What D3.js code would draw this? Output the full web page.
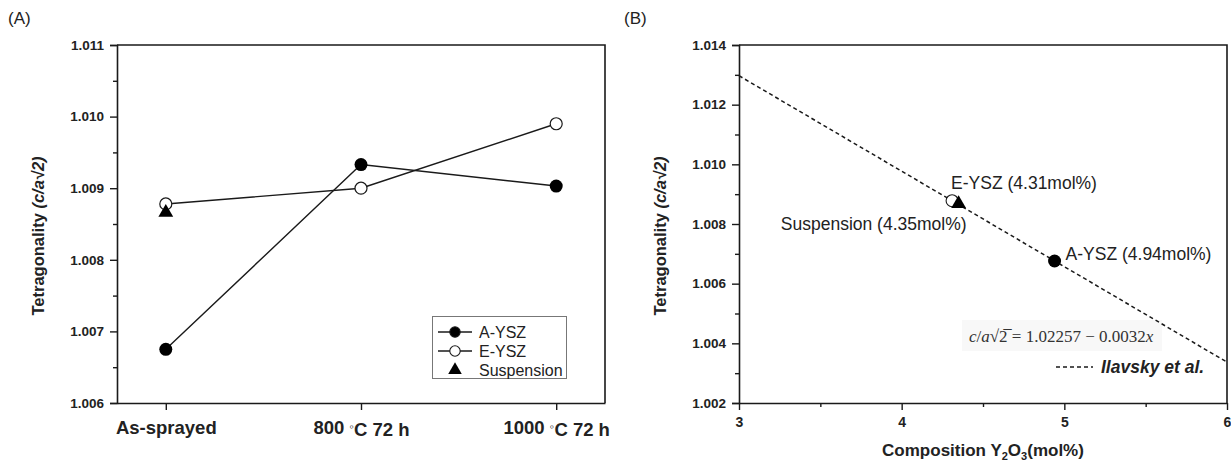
<!DOCTYPE html>
<html><head><meta charset="utf-8">
<script src="https://cdn.jsdelivr.net/npm/d3@7"></script>
<style>
body{margin:0;background:#fff;}
svg{display:block;font-family:Arial,"Liberation Sans",sans-serif;}
</style></head>
<body><svg id="c" width="1231" height="466"></svg>
<script>
// ---- Panel A data ----
const categoriesA = ["As-sprayed", "800 \u25E6C 72 h", "1000 \u25E6C 72 h"];
const aYSZ = [1.00675, 1.00933, 1.00903];
const eYSZ = [1.00878, 1.00900, 1.00990];
const suspensionA = [1.00866];           // As-sprayed only
const yTicksA = [1.006, 1.007, 1.008, 1.009, 1.010, 1.011];
const yMinorA = [1.0065, 1.0075, 1.0085, 1.0095, 1.0105];
const legendA = ["A-YSZ", "E-YSZ", "Suspension"];

// ---- Panel B data ----
const compB = [4.31, 4.35, 4.94];
const tetB = [1.00878, 1.00868, 1.00676];
const namesB = ["E-YSZ (4.31mol%)", "Suspension (4.35mol%)", "A-YSZ (4.94mol%)"];
const fitX = [3, 6];
const fitY = [1.01297, 1.00337];
const xTicksB = [3, 4, 5, 6];
const xMinorB = [3.5, 4.5, 5.5];
const yTicksB = [1.002, 1.004, 1.006, 1.008, 1.010, 1.012, 1.014];
const yMinorB = [1.003, 1.005, 1.007, 1.009, 1.011, 1.013];

const svg = d3.select("#c");
const ink = "#1a1a1a";
const fmt = d3.format(".3f");

function styleAxis(g, labelSize){
  g.select(".domain").attr("stroke", ink).attr("stroke-width", 1.6);
  g.selectAll(".tick line").attr("stroke", ink).attr("stroke-width", 1.4);
  g.selectAll(".tick text").attr("fill", "#222").attr("font-weight", "bold")
    .attr("font-size", labelSize).attr("font-family", "Arial, 'Liberation Sans', sans-serif");
}

// ================= Panel A =================
const xA = d3.scalePoint().domain(categoriesA).range([117, 605]).padding(0.25);
const yA = d3.scaleLinear().domain([1.006, 1.011]).range([403, 45]);

const gA = svg.append("g");
gA.append("path").attr("d", `M${xA.range()[0]},${yA.range()[1]}H${xA.range()[1]}V${yA.range()[0]}`)
  .attr("fill", "none").attr("stroke", ink).attr("stroke-width", 1.6);
gA.append("g").attr("transform", `translate(117,0)`)
  .call(d3.axisLeft(yA).tickValues(yMinorA).tickSize(4).tickFormat(""))
  .call(g => { styleAxis(g, 13); g.select(".domain").remove(); });
gA.append("g").attr("transform", `translate(117,0)`)
  .call(d3.axisLeft(yA).tickValues(yTicksA).tickSize(7).tickPadding(6).tickFormat(fmt))
  .call(g => styleAxis(g, 13.5));
const axB = gA.append("g").attr("transform", `translate(0,403)`)
  .call(d3.axisBottom(xA).tickSize(7).tickPadding(11).tickSizeOuter(0))
  .call(g => styleAxis(g, 18.5));
axB.selectAll(".tick text").each(function(d){
  const t = d3.select(this); const parts = d.split("\u25E6");
  if (parts.length > 1){
    t.text(null);
    t.append("tspan").text(parts[0]);
    t.append("tspan").attr("font-weight","normal").attr("font-size",13).attr("dy","-0.25em").text("\u25E6");
    t.append("tspan").attr("dy","0.25em").text(parts[1]);
  }
});

gA.append("text").attr("transform", "translate(44,236) rotate(-90)")
  .attr("text-anchor", "middle").attr("font-weight", "bold").attr("font-size", 16.5).attr("fill", "#222")
  .call(t => { t.append("tspan").text("Tetragonality "); t.append("tspan").attr("font-style","italic").text("(c/a\u221A2)"); });

const lineA = d3.line().x((d,i) => xA(categoriesA[i])).y(d => yA(d));
[aYSZ, eYSZ].forEach(s => gA.append("path").attr("d", lineA(s)).attr("fill","none")
  .attr("stroke", ink).attr("stroke-width", 1.4));
gA.selectAll(".ea").data(eYSZ).join("circle").attr("cx",(d,i)=>xA(categoriesA[i])).attr("cy",d=>yA(d))
  .attr("r",6).attr("fill","#fff").attr("stroke",ink).attr("stroke-width",1.2);
gA.selectAll(".aa").data(aYSZ).join("circle").attr("cx",(d,i)=>xA(categoriesA[i])).attr("cy",d=>yA(d))
  .attr("r",6.5).attr("fill","#000");
const tri = d3.symbol().type(d3.symbolTriangle);
gA.selectAll(".sa").data(suspensionA).join("path").attr("d", tri.size(95)())
  .attr("transform",(d,i)=>`translate(${xA(categoriesA[i])},${yA(d)})`).attr("fill","#000");

const lg = gA.append("g");
lg.append("rect").attr("x",432.5).attr("y",316.5).attr("width",134).attr("height",62)
  .attr("fill","#fff").attr("stroke","#777").attr("stroke-width",1);
legendA.forEach((name,i) => {
  const y = 332 + i*19;
  if (i < 2){
    lg.append("line").attr("x1",438).attr("x2",472).attr("y1",y).attr("y2",y).attr("stroke",ink).attr("stroke-width",1.4);
    lg.append("circle").attr("cx",455).attr("cy",y).attr("r",5.2)
      .attr("fill", i===0 ? "#000" : "#fff").attr("stroke", ink).attr("stroke-width", 1.1);
  } else {
    lg.append("path").attr("d", tri.size(80)()).attr("transform",`translate(455,${y})`).attr("fill","#000");
  }
  lg.append("text").attr("x",479).attr("y",y+5.5).attr("font-size",16).attr("fill","#222").text(name);
});

svg.append("text").attr("x",8).attr("y",24).attr("font-size",17).attr("fill","#222").text("(A)");

// ================= Panel B =================
const xB = d3.scaleLinear().domain([3, 6]).range([739, 1227]);
const yB = d3.scaleLinear().domain([1.002, 1.014]).range([403, 45]);
const gB = svg.append("g");

gB.append("path").attr("d", `M739,45H1227V403`).attr("fill","none").attr("stroke",ink).attr("stroke-width",1.6);
gB.append("g").attr("transform","translate(739,0)")
  .call(d3.axisLeft(yB).tickValues(yMinorB).tickSize(4).tickFormat(""))
  .call(g => { styleAxis(g, 13); g.select(".domain").remove(); });
gB.append("g").attr("transform","translate(739,0)")
  .call(d3.axisLeft(yB).tickValues(yTicksB).tickSize(7).tickPadding(6).tickFormat(fmt))
  .call(g => styleAxis(g, 13.5));
gB.append("g").attr("transform","translate(0,403)")
  .call(d3.axisBottom(xB).tickValues(xMinorB).tickSize(4).tickFormat(""))
  .call(g => { styleAxis(g, 13); g.select(".domain").remove(); });
gB.append("g").attr("transform","translate(0,403)")
  .call(d3.axisBottom(xB).tickValues(xTicksB).tickSize(7).tickPadding(7).tickFormat(d3.format("d")).tickSizeOuter(0))
  .call(g => styleAxis(g, 14));

gB.append("text").attr("transform","translate(666,236) rotate(-90)")
  .attr("text-anchor","middle").attr("font-weight","bold").attr("font-size",16.5).attr("fill","#222")
  .call(t => { t.append("tspan").text("Tetragonality "); t.append("tspan").attr("font-style","italic").text("(c/a\u221A2)"); });

gB.append("text").attr("x",983).attr("y",456).attr("text-anchor","middle")
  .attr("font-weight","bold").attr("font-size",17).attr("fill","#222")
  .call(t => {
    t.append("tspan").text("Composition Y");
    t.append("tspan").attr("font-size",11).attr("dy",4).text("2");
    t.append("tspan").attr("dy",-4).text("O");
    t.append("tspan").attr("font-size",11).attr("dy",4).text("3");
    t.append("tspan").attr("dy",-4).text("(mol%)");
  });

gB.append("rect").attr("x",962).attr("y",320).attr("width",200).attr("height",31).attr("fill","#f8f8f8");
gB.append("text").attr("x",969).attr("y",342).attr("font-family","'Liberation Serif','Times New Roman',serif")
  .attr("font-size",17).attr("fill","#333")
  .call(t => {
    t.append("tspan").attr("font-style","italic").text("c");
    t.append("tspan").text("/");
    t.append("tspan").attr("font-style","italic").text("a");
    t.append("tspan").text("\u221A2\u0305 = 1.02257 \u2212 0.0032");
    t.append("tspan").attr("font-style","italic").text("x");
  });

const lineB = d3.line().x((d,i)=>xB(fitX[i])).y(d=>yB(d));
gB.append("path").attr("d", lineB(fitY)).attr("fill","none").attr("stroke",ink)
  .attr("stroke-width",1.5).attr("stroke-dasharray","4,3");

gB.append("circle").attr("cx",xB(compB[0])).attr("cy",yB(tetB[0])).attr("r",6)
  .attr("fill","#fff").attr("stroke",ink).attr("stroke-width",1.1);
gB.append("path").attr("d",tri.size(95)()).attr("transform",`translate(${xB(compB[1])},${yB(tetB[1])})`).attr("fill","#000");
gB.append("circle").attr("cx",xB(compB[2])).attr("cy",yB(tetB[2])).attr("r",6.5).attr("fill","#000");

gB.append("text").attr("x",xB(compB[0])-1).attr("y",yB(tetB[0])-12).attr("font-size",17.5).attr("fill","#222").text(namesB[0]);
gB.append("text").attr("x",xB(compB[1])+8).attr("y",yB(tetB[1])+26).attr("text-anchor","end").attr("font-size",17.5).attr("fill","#222").text(namesB[1]);
gB.append("text").attr("x",xB(compB[2])+11).attr("y",yB(tetB[2])-1).attr("font-size",17.5).attr("fill","#222").text(namesB[2]);

gB.append("line").attr("x1",1056).attr("x2",1093).attr("y1",367).attr("y2",367)
  .attr("stroke",ink).attr("stroke-width",1.5).attr("stroke-dasharray","4,3");
gB.append("text").attr("x",1101).attr("y",373).attr("font-weight","bold").attr("font-style","italic")
  .attr("font-size",17.5).attr("fill","#222").text("Ilavsky et al.");

svg.append("text").attr("x",624).attr("y",24).attr("font-size",17).attr("fill","#222").text("(B)");
</script></body></html>
